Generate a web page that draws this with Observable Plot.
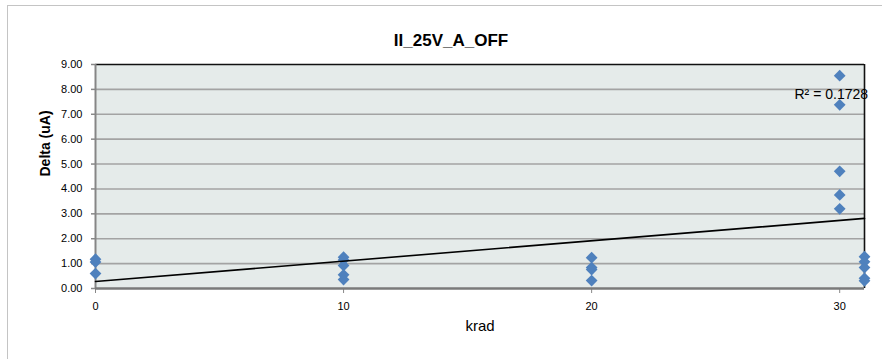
<!DOCTYPE html>
<html>
<head>
<meta charset="utf-8">
<script src="https://cdn.jsdelivr.net/npm/d3@7"></script>
<script src="https://cdn.jsdelivr.net/npm/@observablehq/plot@0.6"></script>
<style>
  html, body { margin: 0; padding: 0; background: #fff; overflow: hidden; }
  #wrap { position: relative; width: 882px; height: 359px; }
  #outer { position: absolute; left: 7px; top: 5px; width: 900px; height: 400px; border: 1px solid #c4c4c4; pointer-events: none; }
</style>
</head>
<body>
<div id="wrap"><div id="outer"></div></div>
<script>
const chartTitle = "II_25V_A_OFF";
const xLabel = "krad";
const yLabel = "Delta (uA)";
const r2Label = "R² = 0.1728";

const xTicks = [0, 10, 20, 30];
const yTicks = [0, 1, 2, 3, 4, 5, 6, 7, 8, 9];

const kradLevels = [0, 10, 20, 30, 31];
const deltaAt0 = [1.18, 1.06, 0.60];
const deltaAt10 = [1.26, 1.15, 0.92, 0.55, 0.36];
const deltaAt20 = [1.24, 0.84, 0.76, 0.32];
const deltaAt30 = [8.55, 7.38, 4.71, 3.76, 3.20];
const deltaAt31 = [1.28, 1.07, 0.84, 0.41, 0.31];

const deltaSeries = [deltaAt0, deltaAt10, deltaAt20, deltaAt30, deltaAt31];
const points = kradLevels.flatMap((k, i) => deltaSeries[i].map(v => ({krad: k, delta: v})));

const gridVals = yTicks.filter(v => v > 0 && v < 9);

const chart = Plot.plot({
  width: 882,
  height: 359,
  marginLeft: 95,
  marginRight: 18,
  marginTop: 64,
  marginBottom: 71,
  style: { fontFamily: "'Liberation Sans', Arial, sans-serif", fontSize: "11px", color: "#000", background: "transparent" },
  x: { domain: [0, 31] },
  y: { domain: [0, 9] },
  marks: [
    Plot.frame({ fill: "#e5ebea", stroke: null }),
    Plot.ruleY(gridVals, { stroke: "#a3a3a3", strokeWidth: 1.6 }),
    Plot.ruleY([9], { stroke: "#111", strokeWidth: 1.6 }),
    Plot.ruleX([31], { stroke: "#111", strokeWidth: 1.6 }),
    Plot.axisY({ ticks: yTicks, tickFormat: d => d.toFixed(2), tickSize: 4, tickPadding: 9, stroke: "#888", strokeWidth: 1.5, fill: "#000", fontSize: 11, label: null }),
    Plot.axisX({ ticks: xTicks, tickFormat: d => String(d), tickSize: 5, tickPadding: 9, stroke: "#888", fill: "#000", fontSize: 11, label: null }),
    Plot.ruleX([0], { stroke: "#868686", strokeWidth: 2 }),
    Plot.ruleY([0], { stroke: "#7a7a7a", strokeWidth: 2.5 }),
    Plot.dot(points, { x: "krad", y: "delta", symbol: "diamond2", r: 5.3, fill: "#4f81bd", stroke: "none" }),
    Plot.linearRegressionY(points, { x: "krad", y: "delta", ci: 0, stroke: "#000", strokeWidth: 1.6 }),
    Plot.text([r2Label], { text: d => d, frameAnchor: "top-right", textAnchor: "start", dx: -70, dy: 25, fontSize: 14, fill: "#000" }),
    Plot.text([chartTitle], { text: d => d, frameAnchor: "top", dx: -29, dy: -31, fontSize: 17, fontWeight: "bold", fill: "#000" }),
    Plot.text([yLabel], { text: d => d, frameAnchor: "left", dx: -50, rotate: -90, fontSize: 14, fontWeight: "bold", fill: "#000" }),
    Plot.text([xLabel], { text: d => d, frameAnchor: "bottom", dx: 0, dy: 42, fontSize: 15, fill: "#000" })
  ]
});
chart.style.position = "absolute";
chart.style.left = "0";
chart.style.top = "0";
document.getElementById("wrap").prepend(chart);
</script>
</body>
</html>
